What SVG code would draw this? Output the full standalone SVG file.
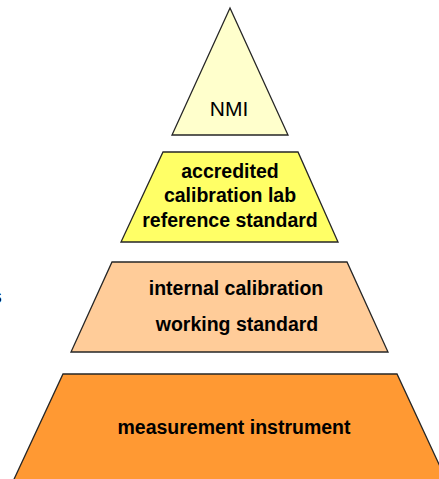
<svg xmlns="http://www.w3.org/2000/svg" width="439" height="479" viewBox="0 0 439 479">
  <style>
    .tier { stroke: #262626; stroke-width: 1.3; stroke-linejoin: miter; }
    .lbl { font-family: "Liberation Sans", Arial, sans-serif; font-weight: bold; font-size: 19.5px; fill: #000; text-anchor: middle; }
    .top { font-family: "Liberation Sans", Arial, sans-serif; font-size: 21px; fill: #000; text-anchor: middle; }
  </style>
  <rect width="439" height="479" fill="#fff"/>

  <!-- clipped edge of a label running off the left side -->
  <text x="-9" y="303" class="lbl" style="text-anchor:start">s</text>

  <g id="tier-nmi">
    <polygon class="tier" points="230,8 288,135 172,135" fill="#FFFFCC"/>
    <text class="top" x="229" y="116">NMI</text>
  </g>

  <g id="tier-accredited-lab">
    <polygon class="tier" points="163,152 298,152 338,242 121,242" fill="#FFFF66"/>
    <text class="lbl" x="230" y="178">accredited</text>
    <text class="lbl" x="230" y="202">calibration lab</text>
    <text class="lbl" x="230" y="227">reference standard</text>
  </g>

  <g id="tier-internal">
    <polygon class="tier" points="112,262 347,262 388,352 71,352" fill="#FFCC99"/>
    <text class="lbl" x="236" y="295">internal calibration</text>
    <text class="lbl" x="237" y="331">working standard</text>
  </g>

  <g id="tier-instrument">
    <polygon class="tier" points="63,374 397,374 451,490 9,490" fill="#FF9933"/>
    <text class="lbl" x="234" y="434">measurement instrument</text>
  </g>

  <g id="connectors"></g>
</svg>
